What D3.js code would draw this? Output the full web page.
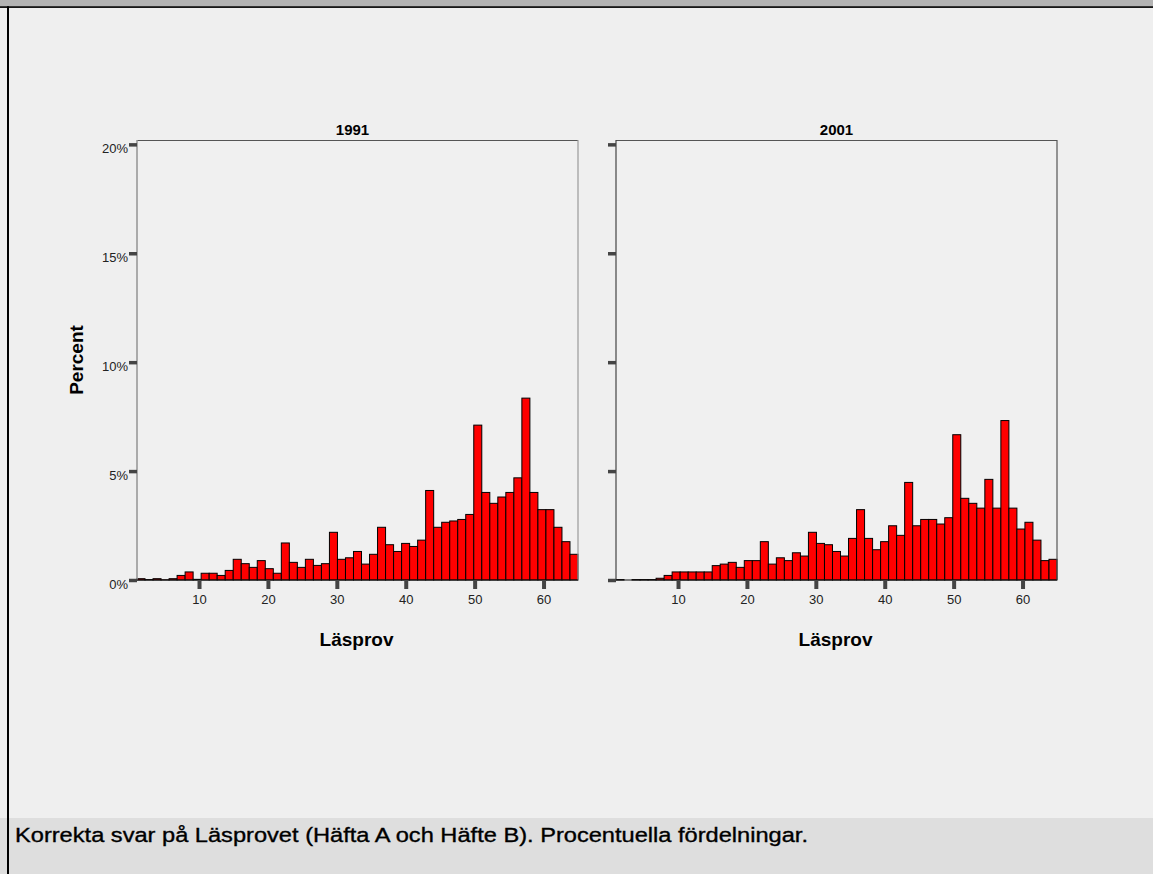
<!DOCTYPE html>
<html>
<head>
<meta charset="utf-8">
<script src="https://cdn.jsdelivr.net/npm/d3@7/dist/d3.min.js"></script>
<style>
  html, body { margin: 0; padding: 0; background: #efefef; }
  svg { display: block; }
</style>
</head>
<body>
<svg id="chart" width="1153" height="874"></svg>
<script>
// ---- Data (percent of pupils per score bin, 55 bins over score 1..65) ----
const panels = ["1991", "2001"];
const xTickValues = [10, 20, 30, 40, 50, 60];
const yTickValues = [0, 5, 10, 15, 20];
const yTickLabels = ["0%", "5%", "10%", "15%", "20%"];
const binCount = 55;
const scoreMin = 1;
const scoreMax = 65;

const values1991 = [
  0.06, 0.02, 0.06, 0.01, 0.06, 0.21, 0.37, 0.03, 0.31, 0.31,
  0.21, 0.44, 0.95, 0.75, 0.58, 0.89, 0.52, 0.31, 1.70, 0.81,
  0.58, 0.95, 0.67, 0.75, 2.19, 0.95, 1.02, 1.31, 0.73, 1.18,
  2.42, 1.62, 1.31, 1.68, 1.54, 1.83, 4.11, 2.42, 2.65, 2.71,
  2.78, 3.01, 7.11, 4.02, 3.52, 3.81, 4.02, 4.69, 8.35, 4.02,
  3.23, 3.23, 2.42, 1.76, 1.18
];
const values2001 = [
  0.02, 0.00, 0.02, 0.02, 0.02, 0.08, 0.21, 0.37, 0.37, 0.37,
  0.37, 0.37, 0.66, 0.73, 0.81, 0.58, 0.89, 0.89, 1.76, 0.73,
  1.02, 0.89, 1.25, 1.10, 2.19, 1.68, 1.62, 1.31, 1.10, 1.91,
  3.23, 1.91, 1.39, 1.76, 2.49, 2.05, 4.48, 2.49, 2.78, 2.78,
  2.57, 2.86, 6.67, 3.75, 3.52, 3.30, 4.62, 3.30, 7.32, 3.30,
  2.34, 2.65, 1.83, 0.89, 0.95
];
const seriesValues = [values1991, values2001];
const xAxisTitle = "Läsprov";
const yAxisTitle = "Percent";
const caption = "Korrekta svar på Läsprovet (Häfta A och Häfte B). Procentuella fördelningar.";

// ---- Layout ----
const W = 1153, H = 874;
const panelX = [137, 616];
const panelTop = 140;
const panelW = 441, panelH = 440;
const titleOffsets = [-5, 0];

const svg = d3.select("#chart");
const font = "'Liberation Sans', Arial, Helvetica, sans-serif";

// background
svg.append("rect").attr("x", 0).attr("y", 0).attr("width", W).attr("height", H).attr("fill", "#efefef");
// top grey band
svg.append("rect").attr("x", 0).attr("y", 0).attr("width", W).attr("height", 7).attr("fill", "#b3b3b3");
svg.append("rect").attr("x", 0).attr("y", 6.3).attr("width", W).attr("height", 1.6).attr("fill", "#000");
// caption band
svg.append("rect").attr("x", 0).attr("y", 818).attr("width", W).attr("height", H - 818).attr("fill", "#dedede");
// left border
svg.append("rect").attr("x", 7).attr("y", 6.3).attr("width", 2).attr("height", H).attr("fill", "#000");

const binWidth = (scoreMax - scoreMin) / binCount;
const bins = d3.range(binCount).map(i => ({ x0: scoreMin + i * binWidth, x1: scoreMin + (i + 1) * binWidth }));

const x = d3.scaleLinear().domain([scoreMin, scoreMax]).range([0, panelW]);
const y = d3.scaleLinear().domain([0, 20.2]).range([panelH, 0]);

panels.forEach((name, p) => {
  const g = svg.append("g").attr("transform", `translate(${panelX[p]},${panelTop})`);
  g.append("rect").attr("width", panelW).attr("height", panelH).attr("fill", "#f0f0f0");

  // bars
  const data = seriesValues[p].map((v, i) => ({ v, x0: bins[i].x0, x1: bins[i].x1 }));
  g.selectAll("rect.bar").data(data.filter(d => d.v > 0)).join("rect")
    .attr("class", "bar")
    .attr("x", d => x(d.x0))
    .attr("y", d => y(d.v))
    .attr("width", d => x(d.x1) - x(d.x0))
    .attr("height", d => Math.max(0, panelH - y(d.v)))
    .attr("fill", "#ff0000")
    .attr("stroke", "#000")
    .attr("stroke-width", 1);

  // frame
  const sideColor = p === 0 ? "#999" : "#444";
  g.append("line").attr("x1", 0).attr("x2", panelW).attr("y1", 0.5).attr("y2", 0.5)
    .attr("stroke", "#555").attr("stroke-width", 1);
  g.append("line").attr("x1", 0).attr("x2", 0).attr("y1", 0).attr("y2", panelH)
    .attr("stroke", sideColor).attr("stroke-width", p === 0 ? 1.6 : 1.2);
  g.append("line").attr("x1", panelW).attr("x2", panelW).attr("y1", 0).attr("y2", panelH)
    .attr("stroke", p === 0 ? "#999" : "#555").attr("stroke-width", 1.2);
  g.append("line").attr("x1", 0).attr("x2", panelW).attr("y1", panelH).attr("y2", panelH)
    .attr("stroke", "#111").attr("stroke-width", 1);

  // y axis ticks
  const yAxis = d3.axisLeft(y).tickValues(yTickValues).tickSize(8)
    .tickFormat((d, i) => p === 0 ? yTickLabels[i] : "");
  const ya = g.append("g").call(yAxis);
  ya.select(".domain").remove();
  ya.selectAll(".tick line").attr("stroke", "#444").attr("stroke-width", 3.5);
  ya.selectAll(".tick text").attr("font-family", font).attr("font-size", 13)
    .attr("fill", "#222").attr("x", -9).attr("dy", "0.62em");

  // x axis ticks
  const xAxis = d3.axisBottom(x).tickValues(xTickValues).tickSize(9).tickPadding(6)
    .tickFormat(d3.format("d"));
  const xa = g.append("g").attr("transform", `translate(0,${panelH})`).call(xAxis);
  xa.select(".domain").remove();
  xa.selectAll(".tick line").attr("stroke", "#444").attr("stroke-width", 4);
  xa.selectAll(".tick text").attr("font-family", font).attr("font-size", 13).attr("fill", "#222");

  // panel title
  g.append("text").attr("x", panelW / 2 + titleOffsets[p]).attr("y", -5)
    .attr("text-anchor", "middle").attr("font-family", font).attr("font-weight", "bold")
    .attr("font-size", 15).attr("fill", "#000").text(name);

  // x axis title
  g.append("text").attr("x", panelW / 2 - 1).attr("y", 646 - panelTop)
    .attr("text-anchor", "middle").attr("font-family", font).attr("font-weight", "bold")
    .attr("font-size", 19).attr("fill", "#000").text(xAxisTitle);
});

// y axis title
svg.append("text").attr("transform", "translate(83,360) rotate(-90)")
  .attr("text-anchor", "middle").attr("font-family", font).attr("font-weight", "bold")
  .attr("font-size", 19).attr("fill", "#000").text(yAxisTitle);

// caption
svg.append("text").attr("x", 15).attr("y", 842)
  .attr("font-family", font)
  .attr("font-size", 20.5)
  .attr("textLength", 793).attr("lengthAdjust", "spacingAndGlyphs")
  .attr("fill", "#000").attr("stroke", "#000").attr("stroke-width", 0.35)
  .text(caption);
</script>
</body>
</html>
